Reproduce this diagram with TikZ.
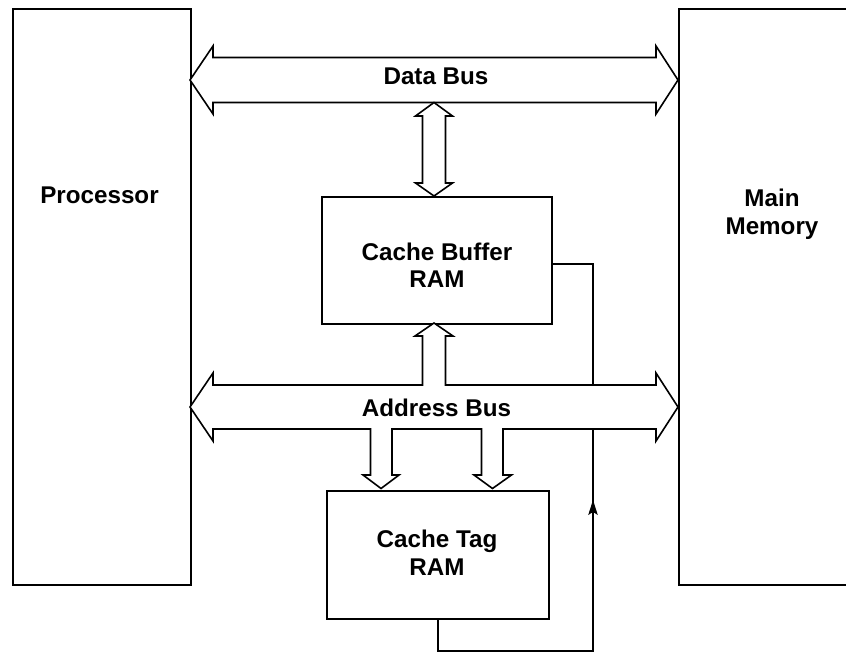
\documentclass[tikz,border=0pt]{standalone}
\usepackage{fontspec}
\setmainfont{Liberation Sans}
\begin{document}
\begin{tikzpicture}[x=1pt,y=-1pt,
  unit/.style={draw,line width=1.6pt,inner sep=0pt,anchor=north west},
  lbl/.style={font=\fontsize{24.2}{27.5}\selectfont\bfseries,align=center,inner sep=0pt},
  bus/.style={draw,line width=1.6pt,line join=miter,fill=white},
  wire/.style={draw,line width=1.6pt}]
\useasboundingbox (0,0) rectangle (846,652);
\clip (0,0) rectangle (846,652);

% functional units
\node[unit,minimum width=178pt,minimum height=576pt] (proc) at (12,8) {};
\node[unit,minimum width=200pt,minimum height=576pt] (mem) at (678,8) {};
\node[unit,minimum width=230pt,minimum height=127pt] (buf) at (321,196) {};
\node[unit,minimum width=222pt,minimum height=128pt] (tag) at (326,490) {};

% unit labels
\node[lbl,anchor=base] (proct) at (99.5,203.3) {Processor};
\node[lbl] (memt) at (772,214) {Main\\Memory};
\node[lbl] (buft) at (437,265) {Cache Buffer\\RAM};
\node[lbl] (tagt) at (437,552.5) {Cache Tag\\RAM};

% data bus
\path[bus] (190,80) -- (213,46) -- (213,57.5) -- (656,57.5) -- (656,46) -- (678,80)
  -- (656,114) -- (656,102.5) -- (213,102.5) -- (213,114) -- cycle;
\node[lbl,anchor=base] (dbt) at (436,85) {Data Bus};

% data path between data bus and cache buffer
\path[bus] (434,102.5) -- (452.5,116) -- (445.5,116) -- (445.5,183) -- (452.5,183)
  -- (434,196) -- (415.5,183) -- (422.5,183) -- (422.5,116) -- (415.5,116) -- cycle;

% address bus with its branches to the cache RAMs
\path[bus] (190,407) -- (213,373) -- (213,385) -- (422.5,385) -- (422.5,336)
  -- (415,336) -- (434,323) -- (453,336) -- (445.5,336) -- (445.5,385)
  -- (656,385) -- (656,373) -- (678,407) -- (656,441) -- (656,429)
  -- (503,429) -- (503,475) -- (511.5,475) -- (492.5,488.5) -- (474,475)
  -- (481.5,475) -- (481.5,429) -- (392,429) -- (392,475) -- (399,475)
  -- (381,488.5) -- (363,475) -- (370.5,475) -- (370.5,429) -- (213,429)
  -- (213,441) -- cycle;
\node[lbl,anchor=base] (abt) at (436.5,416.7) {Address Bus};

% control wires
\coordinate (abtop) at (593,385);
\coordinate (abbot) at (593,429);
\coordinate (tagwire) at (593,651);
\coordinate (tagarrow) at (593,500);
\draw[wire] ([yshift=-3.5pt]buf.east) -| (abtop);
\draw[wire] (tag.south) |- (tagwire) -- (abbot);
% arrowhead on the hit/miss line, pointing up
\fill (tagarrow) -- ++(-4.8,15) -- ++(4.8,-3) -- ++(4.8,3) -- cycle;
\end{tikzpicture}
\end{document}
